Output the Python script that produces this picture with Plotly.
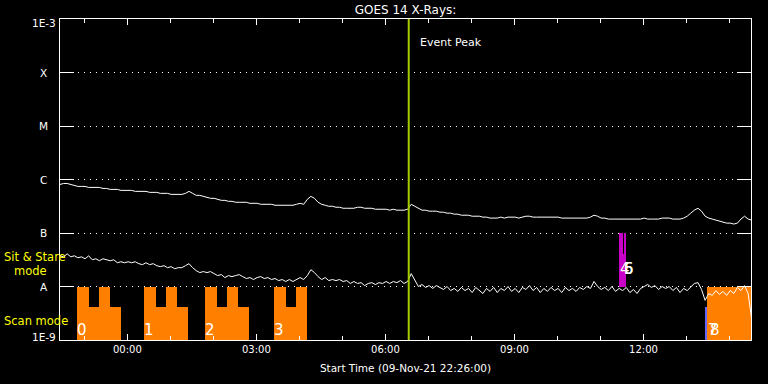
import numpy as np
import pandas as pd
import plotly.graph_objects as go

# ---------------- data ----------------
start_time = "2021-11-09 22:26:00"
end_time = "2021-11-10 14:30:00"
sample_step = "5min"

# GOES 1-8 A channel, in units of 1e-7 W/m^2 (5-minute samples from start_time)
long_flux_e7 = [
    8.08, 8.43, 8.43, 8.08, 7.74, 7.42, 7.42, 7.42, 7.11, 7.11,
    7.11, 7.11, 6.81, 6.81, 6.53, 6.53, 6.53, 6.26, 6.26, 6.26,
    6.26, 6.00, 6.00, 6.00, 6.00, 5.75, 5.75, 5.75, 5.51, 5.51,
    5.51, 5.27, 5.27, 5.27, 5.27, 5.51, 6.00, 5.51, 5.05, 5.05,
    4.84, 4.64, 4.45, 4.45, 4.26, 4.08, 4.08, 3.91, 3.91, 3.75,
    3.75, 3.75, 3.75, 3.59, 3.59, 3.59, 3.44, 3.44, 3.44, 3.44,
    3.30, 3.30, 3.30, 3.30, 3.30, 3.30, 3.44, 3.59, 3.44, 4.26,
    4.84, 4.45, 3.75, 3.44, 3.30, 3.16, 3.16, 3.03, 3.03, 2.90,
    2.90, 2.90, 2.90, 3.03, 3.03, 2.90, 2.90, 2.90, 2.78, 2.78,
    2.78, 2.78, 2.67, 2.78, 2.67, 2.67, 2.67, 2.78, 3.44, 3.16,
    2.90, 2.67, 2.67, 2.56, 2.56, 2.56, 2.45, 2.45, 2.35, 2.35,
    2.25, 2.25, 2.15, 2.15, 2.15, 2.06, 2.06, 2.06, 1.98, 1.98,
    1.90, 1.90, 1.90, 1.98, 1.90, 1.98, 1.98, 1.98, 1.90, 1.98,
    2.06, 2.06, 1.98, 1.98, 1.98, 1.98, 1.98, 1.98, 1.98, 1.98,
    1.90, 1.90, 1.90, 1.90, 1.90, 1.90, 1.90, 1.90, 1.98, 2.15,
    2.06, 1.90, 1.90, 1.82, 1.82, 1.82, 1.82, 1.82, 1.82, 1.82,
    1.82, 1.82, 1.82, 1.90, 1.82, 1.82, 1.82, 1.82, 1.90, 1.90,
    1.90, 1.82, 1.82, 1.82, 1.90, 2.06, 2.35, 2.67, 2.90, 2.56,
    2.06, 1.90, 1.82, 1.74, 1.67, 1.60, 1.53, 1.53, 1.47, 1.53,
    1.82, 2.06, 1.82, 1.74,
]

# GOES 0.5-4 A channel, in units of 1e-9 W/m^2 (5-minute samples from start_time)
short_flux_e9 = [
    37.5, 35.9, 40.8, 35.9, 37.5, 34.4, 35.9, 33.0, 37.5, 31.6,
    33.0, 30.3, 33.0, 31.6, 30.3, 31.6, 27.8, 29.0, 27.8, 29.0,
    27.8, 29.0, 26.7, 25.6, 27.8, 25.6, 26.7, 24.5, 23.5, 24.5,
    22.5, 23.5, 21.5, 22.5, 22.5, 24.5, 26.7, 22.5, 19.8, 18.2,
    19.0, 18.2, 19.0, 17.4, 16.0, 16.7, 14.7, 16.0, 15.3, 16.0,
    16.7, 15.3, 14.1, 14.7, 13.5, 14.7, 15.3, 14.1, 14.7, 13.5,
    14.1, 12.9, 13.5, 12.4, 13.5, 12.4, 13.5, 14.7, 13.5, 16.0,
    20.6, 18.2, 15.3, 13.5, 14.7, 12.9, 13.5, 12.9, 13.5, 12.4,
    12.9, 11.4, 12.4, 11.4, 11.8, 10.4, 11.4, 11.8, 10.9, 11.8,
    11.4, 12.4, 11.4, 12.4, 11.8, 12.9, 11.4, 12.4, 17.4, 13.5,
    10.0, 10.9, 9.6, 10.4, 9.2, 10.4, 9.6, 8.8, 10.0, 8.4,
    9.2, 8.1, 9.6, 8.4, 9.2, 7.7, 9.6, 8.4, 7.4, 9.2,
    8.1, 9.6, 7.7, 9.2, 8.4, 10.0, 8.1, 9.2, 7.7, 9.6,
    8.8, 10.4, 8.4, 9.6, 7.7, 9.2, 8.1, 9.6, 8.4, 9.2,
    7.7, 9.6, 8.4, 9.2, 8.1, 9.6, 8.8, 10.0, 9.2, 12.4,
    10.0, 8.8, 9.6, 8.4, 10.0, 8.1, 9.2, 8.4, 9.6, 7.7,
    8.8, 7.4, 9.2, 10.0, 10.9, 9.6, 10.4, 8.8, 10.0, 9.2,
    10.0, 8.4, 9.6, 7.7, 9.2, 8.4, 9.6, 11.4, 11.8, 8.8,
    5.5, 7.4, 6.8, 8.4, 7.1, 8.1, 6.8, 8.4, 7.4, 9.6,
    8.4, 10.4, 7.4, 2.45,
]

event_peak_time = "2021-11-10 06:32:30"

# Scan-mode segments (bottom decade)
scan_base = 1e-9
scan_seg_start = [
    "2021-11-09 22:49:40", "2021-11-09 23:06:30", "2021-11-09 23:20:50", "2021-11-09 23:35:50",
    "2021-11-10 00:23:10", "2021-11-10 00:40:00", "2021-11-10 00:53:55", "2021-11-10 01:08:50",
    "2021-11-10 01:48:20", "2021-11-10 02:05:05", "2021-11-10 02:19:25", "2021-11-10 02:34:25",
    "2021-11-10 03:24:35", "2021-11-10 03:41:20", "2021-11-10 03:55:40",
    "2021-11-10 13:28:50",
]
scan_seg_end = [
    "2021-11-09 23:06:30", "2021-11-09 23:20:50", "2021-11-09 23:35:50", "2021-11-09 23:50:40",
    "2021-11-10 00:40:00", "2021-11-10 00:53:55", "2021-11-10 01:08:50", "2021-11-10 01:25:00",
    "2021-11-10 02:05:05", "2021-11-10 02:19:25", "2021-11-10 02:34:25", "2021-11-10 02:49:20",
    "2021-11-10 03:41:20", "2021-11-10 03:55:40", "2021-11-10 04:10:10",
    "2021-11-10 14:32:30",
]
scan_seg_top = [
    1e-8, 4.1e-9, 1e-8, 4.1e-9,
    1e-8, 4.1e-9, 1e-8, 4.1e-9,
    1e-8, 4.1e-9, 1e-8, 4.1e-9,
    1e-8, 4.1e-9, 1e-8,
    1e-8,
]

# Sit & stare segments (second decade)
stare_base = 1e-8
stare_seg_start = ["2021-11-10 11:26:00", "2021-11-10 11:31:00", "2021-11-10 11:33:00"]
stare_seg_end = ["2021-11-10 11:31:00", "2021-11-10 11:33:00", "2021-11-10 11:35:20"]
stare_seg_top = [1e-7, 4.1e-8, 1e-7]

# Other mode segment (blue)
other_base = 1e-9
other_seg_start = ["2021-11-10 13:26:00"]
other_seg_end = ["2021-11-10 13:28:50"]
other_seg_top = [4.1e-9]

# Mode numbers
mode_label_text = ["0", "1", "2", "3", "4", "5", "6", "7", "8"]
mode_label_time = [
    "2021-11-09 22:50:00", "2021-11-10 00:23:30", "2021-11-10 01:48:30", "2021-11-10 03:25:00",
    "2021-11-10 11:27:30", "2021-11-10 11:32:30", "2021-11-10 11:33:30",
    "2021-11-10 13:29:30", "2021-11-10 13:32:30",
]
mode_label_level = [1.56e-9, 1.56e-9, 1.56e-9, 1.56e-9, 2.09e-8, 2.09e-8, 2.09e-8, 1.56e-9, 1.56e-9]

ytick_vals = [1e-9, 1e-8, 1e-7, 1e-6, 1e-5, 1e-4, 1e-3]
ytick_text = ["1E-9", "A", "B", "C", "M", "X", "1E-3"]

# ---------------- figure ----------------
times = pd.date_range(start_time, periods=len(long_flux_e7), freq=sample_step)
long_flux = np.array(long_flux_e7) * 1e-7
short_flux = np.array(short_flux_e9) * 1e-9

FONT = "DejaVu Sans"


def seg_bar(starts, ends, tops, base, color):
    s = pd.to_datetime(starts)
    e = pd.to_datetime(ends)
    centers = s + (e - s) / 2
    widths = (e - s).total_seconds() * 1000.0
    heights = np.array(tops) - base
    return go.Bar(
        x=centers, y=heights, base=[base] * len(heights), width=list(widths),
        marker=dict(color=color, line=dict(width=0)), hoverinfo="skip",
    )


fig = go.Figure()
fig.add_trace(seg_bar(scan_seg_start, scan_seg_end, scan_seg_top, scan_base, "#ff8000"))
fig.add_trace(seg_bar(stare_seg_start, stare_seg_end, stare_seg_top, stare_base, "#c800c8"))
fig.add_trace(seg_bar(other_seg_start, other_seg_end, other_seg_top, other_base, "#6464ff"))

fig.add_trace(go.Scatter(x=times, y=long_flux, mode="lines",
                         line=dict(color="white", width=1), name="1-8 A"))
fig.add_trace(go.Scatter(x=times, y=short_flux, mode="lines",
                         line=dict(color="white", width=1), name="0.5-4 A"))

# event peak line
fig.add_shape(type="line", x0=event_peak_time, x1=event_peak_time, xref="x",
              y0=0, y1=1, yref="paper", line=dict(color="#a4cc00", width=2))
fig.add_annotation(x=event_peak_time, y=0.926, xref="x", yref="paper", text="Event Peak",
                   showarrow=False, xanchor="left", yanchor="middle", xshift=9,
                   font=dict(family=FONT, size=11, color="white"))

# mode number labels
for t, tm, lv in zip(mode_label_text, mode_label_time, mode_label_level):
    fig.add_annotation(x=tm, y=np.log10(lv), xref="x", yref="y", text=t, showarrow=False,
                       xanchor="left", yanchor="middle", xshift=-2,
                       font=dict(family=FONT, size=15, color="white"))

# y tick labels
for v, t in zip(ytick_vals, ytick_text):
    shift = -4 if v == 1e-3 else (3 if v == 1e-9 else 0)
    fig.add_annotation(x=-0.0232, y=np.log10(v), xref="paper", yref="y", text=t,
                       showarrow=False, xanchor="center", yanchor="middle", yshift=shift,
                       font=dict(family=FONT, size=10.5, color="white"))

# mode legend texts (yellow)
yellow = dict(family=FONT, size=11.5, color="#ffff00")
fig.add_annotation(x=-0.0839, y=0.2593, xref="paper", yref="paper", text="Sit & Stare",
                   showarrow=False, xanchor="left", yanchor="middle", font=yellow)
fig.add_annotation(x=-0.069, y=0.2160, xref="paper", yref="paper", text="mode",
                   showarrow=False, xanchor="left", yanchor="middle", font=yellow)
fig.add_annotation(x=-0.0839, y=0.0602, xref="paper", yref="paper", text="Scan mode",
                   showarrow=False, xanchor="left", yanchor="middle", font=yellow)

fig.update_layout(
    width=768, height=384,
    margin=dict(l=60, r=17, t=19, b=41),
    paper_bgcolor="black", plot_bgcolor="black",
    showlegend=False, barmode="overlay", bargap=0,
    title=dict(text="GOES 14 X-Rays:", x=0.5, xref="paper", xanchor="center",
               y=0.975, yref="container", yanchor="middle",
               font=dict(family=FONT, size=12, color="white")),
)

fig.update_xaxes(
    type="date", range=[start_time, end_time],
    showline=True, linecolor="white", linewidth=1, mirror="allticks",
    ticks="inside", ticklen=6, tickcolor="white", tickwidth=1,
    dtick=3 * 3600 * 1000, tick0="2021-11-10 00:00:00", tickformat="%H:%M",
    tickfont=dict(family=FONT, size=10, color="white"),
    minor=dict(dtick=3600 * 1000, ticks="inside", ticklen=4, tickcolor="white", showgrid=False),
    showgrid=False, zeroline=False,
    title=dict(text="Start Time (09-Nov-21 22:26:00)", standoff=10,
               font=dict(family=FONT, size=10.5, color="white")),
)

fig.update_yaxes(
    type="log", range=[-9, -3],
    showline=True, linecolor="white", linewidth=1, mirror="allticks",
    ticks="inside", ticklen=14, tickcolor="white", tickwidth=1,
    tickvals=ytick_vals, showticklabels=False,
    showgrid=True, gridcolor="white", gridwidth=1, griddash="1px,5px",
    zeroline=False,
)

fig.write_html(
    "out.html",
    config={"displayModeBar": False},
    post_script="document.body.style.margin='0';document.body.style.background='black';",
)
